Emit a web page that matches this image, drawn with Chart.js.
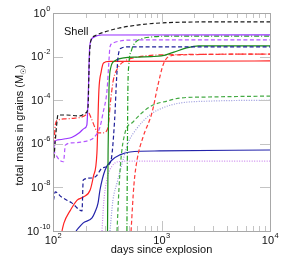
<!DOCTYPE html>
<html>
<head>
<meta charset="utf-8">
<script src="https://cdn.jsdelivr.net/npm/chart.js@4"></script>
<style>
  body { margin: 0; background: #fff; }
  canvas { display: block; }
</style>
</head>
<body>
<canvas id="dustChart" width="293" height="258"></canvas>
<script>
// axis ticks
var xMajor = [100, 1000, 10000];
var xMajorExp = ['2', '3', '4'];
var xMinor = [200, 300, 400, 500, 600, 700, 800, 900, 2000, 3000, 4000, 5000, 6000, 7000, 8000, 9000];
var yMajor = [1, 1e-2, 1e-4, 1e-6, 1e-8, 1e-10];
var yMajorExp = ['0', '-2', '-4', '-6', '-8', '-10'];

// series: days since explosion / total mass (Msun)
var blackDashedDays = [102, 108, 111, 129, 177, 200, 210, 216, 222, 240, 300, 400, 600, 1000, 3000, 10000];
var blackDashedMass = [2.2e-7, 7.2e-6, 2.1e-5, 2.1e-5, 1.9e-5, 2.6e-5, 4.4e-5, 6.9e-3, 4.7e-2, 8.7e-2, 0.135, 0.2, 0.28, 0.35, 0.39, 0.39];

var purpleSolidDays = [100, 103, 110, 130, 150, 175, 195, 205, 212, 217, 225, 240, 280, 10000];
var purpleSolidMass = [1.3e-7, 1.2e-6, 1.5e-6, 1.7e-6, 2.0e-6, 3.2e-6, 5.2e-6, 7.2e-6, 3.0e-4, 2.0e-2, 5.8e-2, 7.9e-2, 9.8e-2, 0.1];

var purpleDashedDays = [100, 115, 125, 130, 150, 180, 220, 240, 271, 289, 315, 328, 335, 357, 414, 600, 10000];
var purpleDashedMass = [5.2e-7, 1.8e-7, 1.5e-7, 8.7e-7, 1.1e-6, 1.2e-6, 1.5e-6, 2.0e-6, 5.9e-6, 2.6e-5, 3.0e-4, 6.9e-3, 2.8e-2, 4.2e-2, 5.2e-2, 5.8e-2, 5.8e-2];

var navyDashedDays = [101, 105, 120, 150, 185, 190, 230, 250, 285, 340, 370, 385, 400, 430, 500, 10000];
var navyDashedMass = [2.6e-9, 6.2e-9, 3.6e-9, 1.9e-9, 8.3e-10, 2.2e-8, 2.7e-8, 3.3e-8, 7.8e-8, 1.5e-7, 1.3e-5, 8.5e-4, 1.2e-2, 2.5e-2, 2.8e-2, 2.8e-2];

var redSolidDays = [121, 126, 145, 167, 190, 220, 235, 254, 265, 278, 292, 330, 10000];
var redSolidMass = [1e-10, 2.3e-10, 9.1e-10, 2.6e-9, 3.6e-9, 7.6e-9, 3.0e-8, 3.8e-7, 3.0e-4, 2.0e-3, 5.1e-3, 6.0e-3, 6.3e-3];

var redDashDotDays = [102, 105, 110, 130, 160, 185, 200, 210, 225, 245, 260, 290, 320, 340, 360, 400, 460, 600, 1000, 10000];
var redDashDotMass = [8.7e-7, 7.2e-6, 1.2e-5, 1.4e-5, 1.5e-5, 1.7e-5, 2.1e-5, 2.9e-5, 1.5e-5, 5.2e-6, 3.2e-6, 3.2e-6, 5.2e-6, 1.0e-4, 8.5e-4, 3.3e-3, 6.3e-3, 9.5e-3, 1.2e-2, 1.3e-2];

var greenSolidDays = [318, 322, 328, 340, 370, 450, 600, 800, 1000, 1300, 1700, 2200, 10000];
var greenSolidMass = [1e-10, 5.2e-7, 3.0e-4, 3.0e-3, 6.3e-3, 8.7e-3, 9.5e-3, 1.0e-2, 1.07e-2, 1.6e-2, 2.5e-2, 3.1e-2, 3.1e-2];

var greenDashDotDays = [480, 485, 490, 500, 530, 580, 650, 800, 1200, 10000];
var greenDashDotMass = [1e-10, 5.2e-7, 3.0e-4, 4.1e-3, 2.0e-2, 4.7e-2, 6.5e-2, 7.9e-2, 8.7e-2, 8.7e-2];

var redDashedDays = [524, 557, 595, 675, 816, 928, 1034, 1150, 1480, 10000];
var redDashedMass = [1e-10, 1.3e-8, 1.8e-7, 2.0e-6, 2.6e-5, 5.0e-4, 4.1e-3, 9.5e-3, 1.2e-2, 1.3e-2];

var greenDashedDays = [389, 405, 422, 461, 546, 675, 836, 1122, 1480, 2620, 10000];
var greenDashedMass = [1e-10, 7.6e-9, 1.8e-7, 3.2e-6, 1.0e-5, 2.9e-5, 6.0e-5, 9.1e-5, 1.26e-4, 1.4e-4, 1.55e-4];

var blueDottedDays = [335, 357, 389, 442, 492, 570, 782, 1077, 1480, 2800, 10000];
var blueDottedMass = [1e-10, 2.6e-9, 1.6e-8, 1.8e-7, 1.1e-6, 3.9e-6, 2.1e-5, 4.9e-5, 7.4e-5, 9.1e-5, 1.0e-4];

var lilacDottedDays = [283, 292, 302, 321, 350, 397, 512, 10000];
var lilacDottedMass = [1e-10, 1.5e-9, 7.6e-9, 3.7e-8, 9.5e-8, 1.5e-7, 1.6e-7, 1.6e-7];

var navySolidDays = [163, 189, 229, 244, 260, 271, 302, 350, 414, 512, 967, 10000];
var navySolidMass = [1e-10, 2.3e-10, 4.0e-10, 7.4e-10, 1.9e-9, 7.6e-9, 6.3e-8, 1.8e-7, 3.1e-7, 4.2e-7, 4.7e-7, 5.2e-7];

var DASH = [4, 2.5];
var DOT = [1, 1.5];
var DASHDOT = [5, 2, 1, 2];

function series(days, mass, color, dash) {
    return {
        data: days.map(function(d, i) { return { x: d, y: mass[i] }; }),
        borderColor: color,
        borderDash: dash || [],
        borderWidth: 1.2,
        pointRadius: 0,
        fill: false,
        cubicInterpolationMode: 'monotone'
    };
}

function powLabel(ctx, exp, x, y, align) {
    ctx.font = '11px "Liberation Sans", Arial, sans-serif';
    var wb = ctx.measureText('10').width;
    ctx.font = '7.5px "Liberation Sans", Arial, sans-serif';
    var we = ctx.measureText(exp).width;
    var left = align === 'right' ? x - wb - we : x - (wb + we) / 2;
    ctx.textAlign = 'left';
    ctx.textBaseline = 'middle';
    ctx.font = '11px "Liberation Sans", Arial, sans-serif';
    ctx.fillText('10', left, y);
    ctx.font = '7.5px "Liberation Sans", Arial, sans-serif';
    ctx.fillText(exp, left + wb + 0.5, y - 5);
}

var decor = {
    id: 'decor',
    afterDraw: function(chart) {
        var ctx = chart.ctx;
        var a = chart.chartArea;
        var xs = chart.scales.x;
        var ys = chart.scales.y;
        ctx.save();

        // tick marks pointing inward on all four sides
        ctx.strokeStyle = '#c4c4c4';
        ctx.lineWidth = 1;
        ctx.beginPath();
        xMinor.forEach(function(v) {
            var px = Math.round(xs.getPixelForValue(v)) + 0.5;
            ctx.moveTo(px, a.bottom); ctx.lineTo(px, a.bottom - 5);
            ctx.moveTo(px, a.top); ctx.lineTo(px, a.top + 5);
        });
        xMajor.forEach(function(v) {
            var px = Math.round(xs.getPixelForValue(v)) + 0.5;
            ctx.moveTo(px, a.bottom); ctx.lineTo(px, a.bottom - 10);
            ctx.moveTo(px, a.top); ctx.lineTo(px, a.top + 10);
        });
        yMajor.forEach(function(v) {
            var py = Math.round(ys.getPixelForValue(v)) + 0.5;
            ctx.moveTo(a.left, py); ctx.lineTo(a.left + 10, py);
            ctx.moveTo(a.right, py); ctx.lineTo(a.right - 10, py);
        });
        ctx.stroke();

        // frame
        ctx.strokeStyle = '#a8a8a8';
        ctx.strokeRect(Math.round(a.left) + 0.5, Math.round(a.top) + 0.5,
            Math.round(a.right - a.left), Math.round(a.bottom - a.top));

        // tick labels
        ctx.fillStyle = '#111';
        yMajor.forEach(function(v, i) {
            powLabel(ctx, yMajorExp[i], a.left - 3, ys.getPixelForValue(v) + 0.5, 'right');
        });
        xMajor.forEach(function(v, i) {
            powLabel(ctx, xMajorExp[i], xs.getPixelForValue(v), a.bottom + 10, 'center');
        });

        // axis titles
        ctx.font = '11px "Liberation Sans", Arial, sans-serif';
        ctx.textAlign = 'center';
        ctx.textBaseline = 'alphabetic';
        ctx.fillText('days since explosion', (a.left + a.right) / 2, 253);

        ctx.save();
        ctx.translate(23, 125);
        ctx.rotate(-Math.PI / 2);
        var t1 = 'total mass in grains (M';
        var t2 = ')';
        ctx.font = '11px "Liberation Sans", Arial, sans-serif';
        var w1 = ctx.measureText(t1).width;
        var w2 = ctx.measureText(t2).width;
        ctx.font = '7.5px "DejaVu Sans", sans-serif';
        var ws = ctx.measureText('\u2609').width;
        var start = -(w1 + ws + w2) / 2;
        ctx.textAlign = 'left';
        ctx.font = '11px "Liberation Sans", Arial, sans-serif';
        ctx.fillText(t1, start, 0);
        ctx.font = '7.5px "DejaVu Sans", sans-serif';
        ctx.fillText('\u2609', start + w1, 2.5);
        ctx.font = '11px "Liberation Sans", Arial, sans-serif';
        ctx.fillText(t2, start + w1 + ws, 0);
        ctx.restore();

        // panel label
        ctx.font = '11px "Liberation Sans", Arial, sans-serif';
        ctx.textAlign = 'left';
        ctx.fillText('Shell', 64, 35);

        ctx.restore();
    }
};

var ctx = document.getElementById('dustChart').getContext('2d');
new Chart(ctx, {
    type: 'line',
    data: {
        datasets: [
            series(blackDashedDays, blackDashedMass, '#1a1a1a', DASH),
            series(purpleSolidDays, purpleSolidMass, '#9933ff'),
            series(purpleDashedDays, purpleDashedMass, '#b455ff', DASH),
            series(navyDashedDays, navyDashedMass, '#1f1f99', DASH),
            series(greenDashDotDays, greenDashDotMass, '#22a022', DASHDOT),
            series(greenSolidDays, greenSolidMass, '#1a8a1a'),
            series(redDashDotDays, redDashDotMass, '#ff3333', DASHDOT),
            series(redSolidDays, redSolidMass, '#ff2222'),
            series(redDashedDays, redDashedMass, '#ff3838', DASH),
            series(greenDashedDays, greenDashedMass, '#44aa44', DASH),
            series(blueDottedDays, blueDottedMass, '#9999dd', DOT),
            series(lilacDottedDays, lilacDottedMass, '#cc88ee', DOT),
            series(navySolidDays, navySolidMass, '#2222aa')
        ]
    },
    options: {
        responsive: false,
        animation: false,
        devicePixelRatio: 1,
        layout: { padding: { left: 53, right: 23, top: 13, bottom: 27 } },
        plugins: { legend: { display: false }, tooltip: { enabled: false } },
        scales: {
            x: { type: 'logarithmic', min: 100, max: 10000, display: false },
            y: { type: 'logarithmic', min: 1e-10, max: 1, display: false }
        }
    },
    plugins: [decor]
});
</script>
</body>
</html>
